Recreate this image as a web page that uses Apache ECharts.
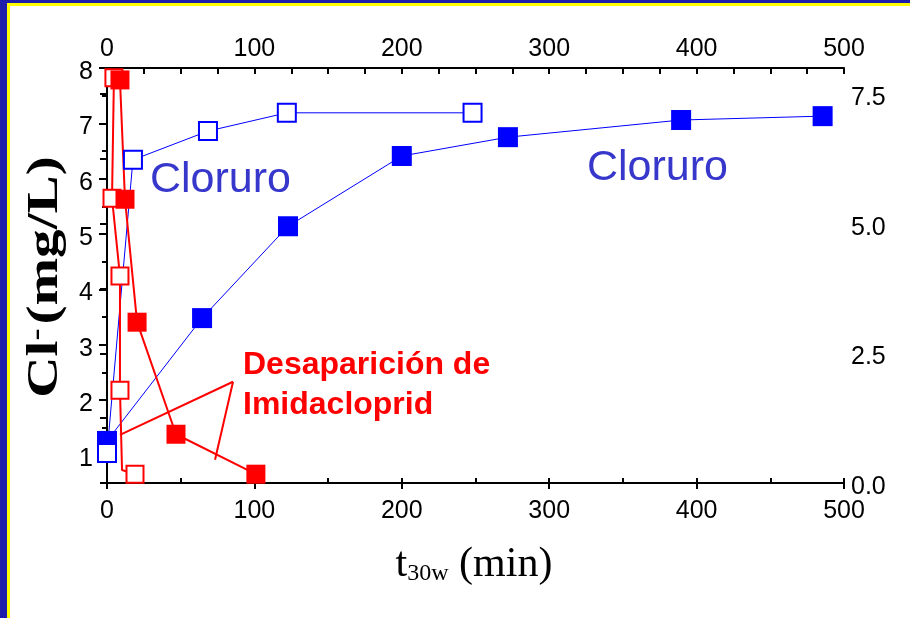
<!DOCTYPE html>
<html lang="es">
<head>
<meta charset="utf-8">
<title>Cloruro</title>
<script src="https://cdn.jsdelivr.net/npm/echarts@6/dist/echarts.min.js"></script>
<style>
  html, body { margin: 0; padding: 0; background: #fff; }
  #main { width: 910px; height: 618px; }
</style>
</head>
<body>
<div id="main"></div>
<script type="text/javascript">
// datos (t en min)
var cloruroLleno = [[0, 1.26], [64.5, 3.48], [122.8, 5.14], [200, 6.41], [272, 6.75], [389.5, 7.06], [485.5, 7.13]];
var cloruroAbierto = [[0, 1.04], [17.6, 6.34], [68.5, 6.86], [122, 7.19], [248, 7.19]];
var imidaLleno = [[8.8, 7.77], [12.2, 5.47], [20.4, 3.10], [46.8, 0.94], [101, 0.17]];
var imidaAbierto = [[4.7, 7.81], [3.4, 5.49], [8.8, 3.99], [8.8, 1.79], [10.2, 0.25, 'x'], [19, 0.17]];
// lineas de la anotacion (en unidades del eje izquierdo)
var flechas = [[[85.5, 2.33], [8.8, 1.37]], [[85.5, 2.33], [73.3, 0.92]]];

var ticksIzq = [1, 2, 3, 4, 5, 6, 7, 8];
var ticksIzqMenor = [0.5, 1.5, 2.5, 3.5, 4.5, 5.5, 6.5, 7.5];
var ticksDer = [0, 1.25, 2.5, 3.75, 5, 6.25, 7.5];
var etiquetasDer = [0, 2.5, 5, 7.5];

var myChart = echarts.init(document.getElementById('main'));

var fuente = '"Liberation Sans", Arial, sans-serif';
var serif = '"Liberation Serif", "Times New Roman", serif';
var negro = '#000';

function abierto(color) {
    return { color: '#fff', borderColor: color, borderWidth: 2 };
}

var option = {
    animation: false,
    backgroundColor: '#fff',
    grid: { left: 107, right: 66, top: 68, bottom: 135 },
    xAxis: [
        {
            type: 'value', position: 'bottom', min: 0, max: 500, interval: 100,
            axisLine: { lineStyle: { color: negro, width: 2 } },
            axisTick: { length: 6, lineStyle: { color: negro, width: 2 } },
            axisLabel: { color: negro, fontSize: 25, fontFamily: fuente, margin: 16 },
            splitLine: { show: false }
        },
        {
            type: 'value', position: 'bottom', min: 0, max: 500, interval: 50,
            axisLine: { show: false },
            axisTick: { inside: true, length: 5, lineStyle: { color: negro, width: 2 } },
            axisLabel: { show: false },
            splitLine: { show: false }
        },
        {
            type: 'value', position: 'top', min: 0, max: 500, interval: 25,
            axisLine: { lineStyle: { color: negro, width: 2 } },
            axisTick: { inside: true, length: 6, lineStyle: { color: negro, width: 2 } },
            axisLabel: {
                color: negro, fontSize: 25, fontFamily: fuente, margin: 6,
                formatter: function (v) { return v % 100 === 0 ? String(v) : ''; }
            },
            splitLine: { show: false }
        }
    ],
    yAxis: [
        {
            type: 'value', position: 'left', min: 0.5, max: 8,
            axisLine: { lineStyle: { color: negro, width: 2 } },
            axisTick: { length: 8, customValues: ticksIzq, lineStyle: { color: negro, width: 2 } },
            axisLabel: {
                color: negro, fontSize: 25, fontFamily: fuente, margin: 14,
                customValues: ticksIzq, verticalAlign: 'top', lineHeight: 8
            },
            splitLine: { show: false }
        },
        {
            type: 'value', position: 'left', min: 0.5, max: 8,
            axisLine: { show: false },
            axisTick: { length: 5, customValues: ticksIzqMenor, lineStyle: { color: negro, width: 2 } },
            axisLabel: { show: false },
            splitLine: { show: false }
        },
        {
            type: 'value', position: 'right', min: 0, max: 8,
            axisLine: { lineStyle: { color: negro, width: 2 } },
            axisTick: { inside: true, length: 7, customValues: ticksDer, lineStyle: { color: negro, width: 2 } },
            axisLabel: {
                color: negro, fontSize: 25, fontFamily: fuente, margin: 7,
                customValues: etiquetasDer, verticalAlign: 'top', lineHeight: 8,
                formatter: function (v) { return v.toFixed(1); }
            },
            splitLine: { show: false }
        }
    ],
    series: [
        {
            name: 'Cloruro', type: 'line', xAxisIndex: 0, yAxisIndex: 0,
            data: cloruroLleno, symbol: 'rect', symbolSize: 20,
            lineStyle: { color: '#0000ff', width: 1 },
            itemStyle: { color: '#0000ff' },
            markLine: {
                silent: true, symbol: 'none', label: { show: false },
                lineStyle: { color: '#ff0000', width: 2, type: 'solid' },
                data: flechas.map(function (f) {
                    return [{ coord: f[0] }, { coord: f[1] }];
                })
            }
        },
        {
            name: 'Cloruro abierto', type: 'line', xAxisIndex: 2, yAxisIndex: 0,
            data: cloruroAbierto, symbol: 'rect', symbolSize: 18,
            lineStyle: { color: '#0000ff', width: 1 },
            itemStyle: abierto('#0000ff')
        },
        {
            name: 'Imidacloprid abierto', type: 'line', xAxisIndex: 2, yAxisIndex: 2,
            data: imidaAbierto.map(function (p) {
                return p[2] ? { value: [p[0], p[1]], symbol: 'none' } : [p[0], p[1]];
            }),
            symbol: 'rect', symbolSize: 17,
            lineStyle: { color: '#ff0000', width: 2 },
            itemStyle: abierto('#ff0000')
        },
        {
            name: 'Imidacloprid', type: 'line', xAxisIndex: 0, yAxisIndex: 2,
            data: imidaLleno, symbol: 'rect', symbolSize: 19,
            lineStyle: { color: '#ff0000', width: 2 },
            itemStyle: { color: '#ff0000' }
        }
    ],
    graphic: [
        { type: 'rect', shape: { x: 0, y: 0, width: 910, height: 3 }, style: { fill: '#1e1eaa' }, z: 100 },
        { type: 'rect', shape: { x: 7, y: 3, width: 903, height: 3 }, style: { fill: '#ffff00' }, z: 100 },
        { type: 'rect', shape: { x: 0, y: 0, width: 7, height: 618 }, style: { fill: '#1e1eaa' }, z: 100 },
        { type: 'rect', shape: { x: 7, y: 3, width: 3, height: 615 }, style: { fill: '#ffff00' }, z: 100 },
        {
            type: 'text', x: 150, y: 180, z: 50,
            style: { text: 'Cloruro', fill: '#3737cc', font: '43px ' + fuente, textVerticalAlign: 'middle' }
        },
        {
            type: 'text', x: 587, y: 168, z: 50,
            style: { text: 'Cloruro', fill: '#3737cc', font: '43px ' + fuente, textVerticalAlign: 'middle' }
        },
        {
            type: 'text', x: 243, y: 365, z: 50,
            style: { text: 'Desaparición de', fill: '#ff0000', font: 'bold 32px ' + fuente, textVerticalAlign: 'middle' }
        },
        {
            type: 'text', x: 243, y: 405, z: 50,
            style: { text: 'Imidacloprid', fill: '#ff0000', font: 'bold 32px ' + fuente, textVerticalAlign: 'middle' }
        },
        {
            type: 'text', x: 46, y: 277, rotation: Math.PI / 2, scaleX: 1.3, z: 50,
            style: {
                text: '{a|Cl}{s|-}{a|(mg/L)}', align: 'center', verticalAlign: 'middle',
                rich: {
                    a: { font: 'bold 44px ' + serif, fill: negro },
                    s: { font: 'bold 28px ' + serif, fill: negro, verticalAlign: 'top', padding: [0, 3, 18, 0] }
                }
            }
        },
        {
            type: 'text', x: 474, y: 565, z: 50,
            style: {
                text: '{a|t}{s|30w}{a| (min)}', align: 'center', verticalAlign: 'middle',
                rich: {
                    a: { font: '42px ' + serif, fill: negro },
                    s: { font: '24px ' + serif, fill: negro, padding: [18, 0, 0, 0] }
                }
            }
        }
    ]
};

myChart.setOption(option);
</script>
</body>
</html>
